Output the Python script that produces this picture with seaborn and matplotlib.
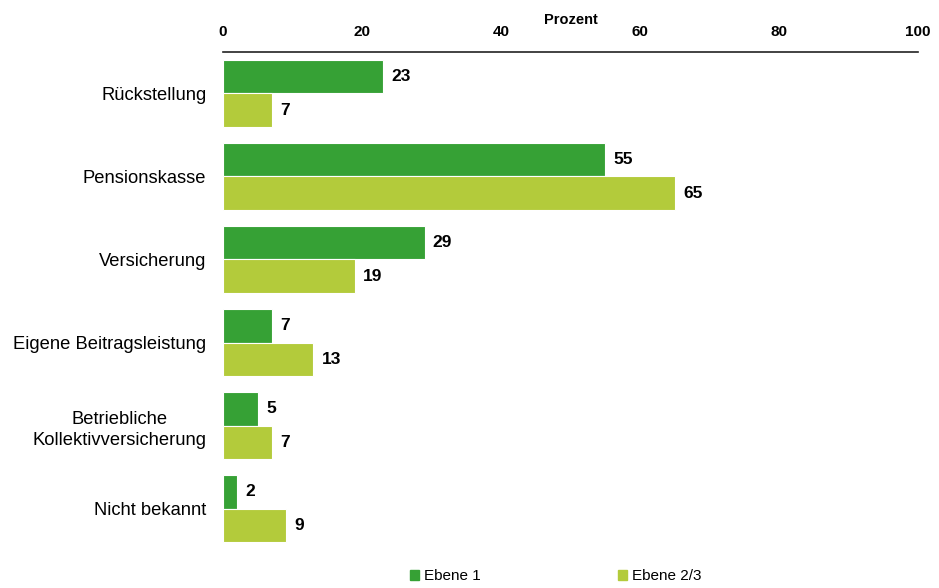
import pandas as pd
import numpy as np
import matplotlib
matplotlib.use("Agg")
import matplotlib.pyplot as plt
import seaborn as sns

categories = ["Rückstellung", "Pensionskasse", "Versicherung",
              "Eigene Beitragsleistung", "Betriebliche\nKollektivversicherung",
              "Nicht bekannt"]
ebene_1 = [23, 55, 29, 7, 5, 2]
ebene_23 = [7, 65, 19, 13, 7, 9]
series = ["Ebene 1", "Ebene 2/3"]
x_ticks = [0, 20, 40, 60, 80, 100]

df = pd.DataFrame({
    "Kategorie": categories * 2,
    "Prozent": ebene_1 + ebene_23,
    "Ebene": [series[0]] * len(categories) + [series[1]] * len(categories),
})

sns.set_style("white")
plt.rcParams["font.family"] = ["Liberation Sans", "DejaVu Sans"]
plt.rcParams["text.color"] = "black"
plt.rcParams["xtick.color"] = "black"
plt.rcParams["ytick.color"] = "black"
plt.rcParams["axes.labelcolor"] = "black"

fig = plt.figure(figsize=(9.39, 5.88), dpi=100)
ax = fig.add_axes([0.2375, 0.0646, 0.740, 0.847])

palette = {"Ebene 1": "#36a135", "Ebene 2/3": "#b3cb3b"}
sns.barplot(data=df, y="Kategorie", x="Prozent", hue="Ebene", orient="h",
            palette=palette, saturation=1, width=0.8, edgecolor="white",
            linewidth=0.8, ax=ax, legend=False)

for cont in ax.containers:
    for bar in cont:
        w = bar.get_width()
        ax.text(w + 1.2, bar.get_y() + bar.get_height() / 2, f"{w:.0f}",
                ha="left", va="center", fontsize=12.5, fontweight="bold")

ax.set_xlim(0, 100)
ax.set_ylim(5.5, -0.5)
ax.set_xticks(x_ticks)
ax.xaxis.tick_top()
ax.xaxis.set_label_position("top")
ax.set_xlabel("Prozent", fontsize=10.5, fontweight="bold", labelpad=1)
ax.set_ylabel("")
ax.tick_params(axis="x", length=0, pad=9, labelsize=11)
for lbl in ax.get_xticklabels():
    lbl.set_fontweight("bold")
ax.tick_params(axis="y", length=0, pad=12, labelsize=13.2)
for lbl in ax.get_yticklabels():
    lbl.set_horizontalalignment("right")
    lbl.set_multialignment("center")
    lbl.set_linespacing(1.35)

for s in ["left", "right", "bottom"]:
    ax.spines[s].set_visible(False)
ax.spines["top"].set_color("#222222")
ax.spines["top"].set_linewidth(1.2)

handles = [plt.Rectangle((0, 0), 1, 1, color=palette[s]) for s in series]
fig.legend(handles, series, loc="center", bbox_to_anchor=(0.592, 0.02),
           ncol=2, frameon=False, fontsize=11, handlelength=0.6,
           handleheight=0.6, handletextpad=0.3, columnspacing=9)

plt.savefig("out.png", dpi=100)
plt.close()
